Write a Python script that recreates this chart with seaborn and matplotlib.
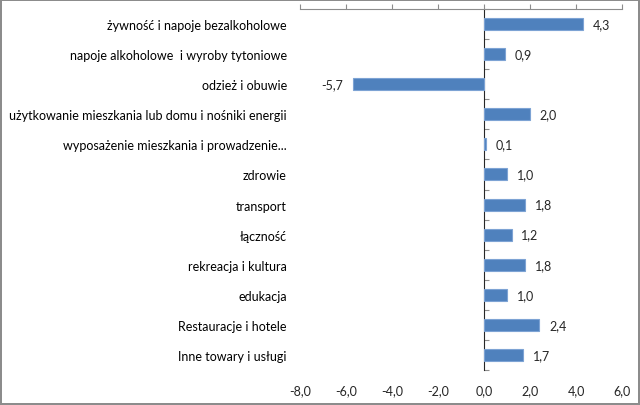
import numpy as np
import matplotlib
matplotlib.use("Agg")
import matplotlib.pyplot as plt
from matplotlib.ticker import FuncFormatter
import seaborn as sns

categories = [
    "żywność i napoje bezalkoholowe",
    "napoje alkoholowe  i wyroby tytoniowe",
    "odzież i obuwie",
    "użytkowanie mieszkania lub domu i nośniki energii",
    "wyposażenie mieszkania i prowadzenie...",
    "zdrowie",
    "transport",
    "łączność",
    "rekreacja i kultura",
    "edukacja",
    "Restauracje i hotele",
    "Inne towary i usługi",
]
values = [4.3, 0.9, -5.7, 2.0, 0.1, 1.0, 1.8, 1.2, 1.8, 1.0, 2.4, 1.7]
xticks = [-8, -6, -4, -2, 0, 2, 4, 6]

sns.set_style("white")
plt.rcParams["font.family"] = ["Lato", "DejaVu Sans"]

fig = plt.figure(figsize=(6.4, 4.06), dpi=100, linewidth=1.5, edgecolor="#8c8c8c")
ax = fig.add_axes([300 / 640, 1 - 371 / 406, 322 / 640, 361 / 406])

sns.barplot(x=values, y=categories, orient="h", color="#4F81BD", saturation=1,
            width=0.4, edgecolor="#7da3d4", linewidth=0.8, ax=ax)

ax.set_xlim(-8, 6)
ax.set_ylim(len(categories) - 0.5, -0.5)
ax.set_xticks(xticks)
ax.xaxis.set_major_formatter(FuncFormatter(lambda v, p: f"{v:.1f}".replace(".", ",")))
ax.tick_params(axis="x", top=True, bottom=False, labeltop=False, labelbottom=True,
               direction="out", length=3.5, width=0.8, color="#8c8c8c",
               labelsize=9, pad=7)
ax.tick_params(axis="y", left=False, labelsize=9, pad=6, labelcolor="#000000")
ax.set_ylabel("")

for side in ["left", "right", "bottom"]:
    ax.spines[side].set_visible(False)
ax.spines["top"].set_color("#8c8c8c")
ax.spines["top"].set_linewidth(0.8)

# zero line with category separators
sec = ax.secondary_yaxis(8 / 14)
sec.set_yticks(np.arange(len(categories) + 1) - 0.5)
sec.set_yticklabels([])
sec.tick_params(direction="out", length=3.5, width=0.8, color="#8c8c8c")
sec.spines["left"].set_color("#8c8c8c")
sec.spines["left"].set_linewidth(0.8)

ax.bar_label(ax.containers[0], labels=[f"{v:.1f}".replace(".", ",") for v in values],
             padding=7, fontsize=9)

fig.savefig("out.png", dpi=100, edgecolor=fig.get_edgecolor())
